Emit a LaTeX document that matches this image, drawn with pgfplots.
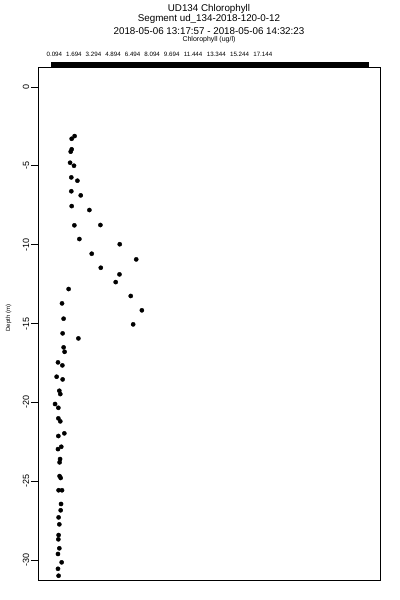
\documentclass[border=0pt]{standalone}
\usepackage{pgfplots}
\pgfplotsset{compat=1.18}
\usepackage{fontspec}
\setmainfont{Liberation Sans}
\begin{document}
\begin{tikzpicture}
\useasboundingbox (0,0) rectangle (400bp,600bp);
\begin{axis}[
  at={(38.3bp,20bp)}, anchor=south west, scale only axis,
  width=341.7bp, height=513bp,
  xmin=-1.22, xmax=26.73, ymin=-31.26, ymax=1.27,
  clip=false,
  axis line style={line width=0.8bp},
  xtick={0.094,1.694,3.294,4.894,6.494,8.094,9.694,11.444,13.344,15.244,17.144},
  xticklabels={0.094,1.694,3.294,4.894,6.494,8.094,9.694,11.444,13.344,15.244,17.144},
  xtick pos=top, xticklabel pos=top,
  every x tick/.style={draw=none},
  xticklabel style={font=\fontsize{6.2bp}{7bp}\selectfont, anchor=base, inner sep=0pt, yshift=3bp},
  ytick={0,-5,-10,-15,-20,-25,-30},
  yticklabels={0,-5,-10,-15,-20,-25,-30},
  ytick pos=left, tick align=outside, major tick length=7.5bp,
  tick style={line width=0.8bp, black},
  yticklabel style={rotate=90, anchor=south, inner sep=1.5bp, font=\fontsize{9bp}{10bp}\selectfont},
  /pgf/number format/assume math mode=true,
]
\addplot[only marks, mark=*, mark size=2.1bp, black] table {
x y
1.51 -3.28
1.75 -3.11
1.51 -3.95
1.43 -4.10
1.38 -4.80
1.70 -4.99
1.48 -5.73
1.98 -5.94
1.48 -6.61
2.25 -6.87
1.51 -7.55
2.96 -7.80
1.73 -8.77
3.86 -8.75
2.14 -9.64
5.44 -9.97
3.15 -10.57
6.79 -10.93
3.89 -11.46
5.42 -11.88
5.11 -12.37
1.26 -12.81
6.34 -13.25
0.72 -13.72
7.25 -14.16
0.85 -14.69
6.54 -15.05
0.77 -15.62
2.06 -15.94
0.85 -16.51
0.93 -16.79
0.39 -17.46
0.75 -17.65
0.28 -18.37
0.77 -18.54
0.50 -19.26
0.58 -19.47
0.15 -20.10
0.42 -20.34
0.42 -21.01
0.58 -21.20
0.91 -21.96
0.42 -22.13
0.66 -22.81
0.39 -22.96
0.56 -23.59
0.52 -23.80
0.52 -24.67
0.61 -24.79
0.44 -25.57
0.72 -25.57
0.64 -26.44
0.61 -26.84
0.44 -27.29
0.50 -27.73
0.44 -28.41
0.42 -28.68
0.50 -29.25
0.39 -29.61
0.69 -30.14
0.39 -30.55
0.44 -30.99
};
\fill[black] (rel axis cs:0.0372,1) rectangle (rel axis cs:0.9678,1.0098);
\end{axis}
\node[font=\fontsize{9.8bp}{11bp}\selectfont, anchor=base] at (209bp,588.3bp) {UD134 Chlorophyll};
\node[font=\fontsize{9.8bp}{11bp}\selectfont, anchor=base] at (209bp,578.5bp) {Segment ud\_134-2018-120-0-12};
\node[font=\fontsize{9.8bp}{11bp}\selectfont, anchor=base] at (209bp,565bp) {2018-05-06 13:17:57 - 2018-05-06 14:32:23};
\node[font=\fontsize{7bp}{8bp}\selectfont, anchor=base] at (209bp,558.5bp) {Chlorophyll (ug/l)};
\node[font=\fontsize{6bp}{7bp}\selectfont, rotate=90, anchor=base] at (10bp,282bp) {Depth (m)};
\end{tikzpicture}
\end{document}
